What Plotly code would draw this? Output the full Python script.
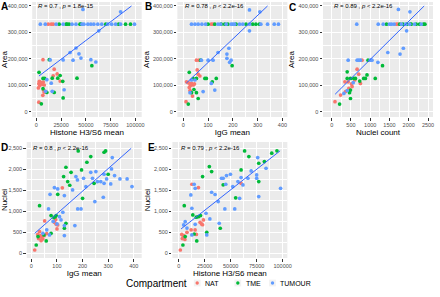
import plotly.graph_objects as go

# ---------------- data ----------------
# Panel A: Histone H3/S6 mean (x) vs Area (y)
A_NAT_x = [12000, 15000, 17000, 6700, 18000, 21000, 17000, 24000, 3000, 4500, 2500, 6000, 3500, 8000, 5500, 7000, 2000, 7500, 8000, 6500, 2500]
A_NAT_y = [331000, 331000, 331000, 197000, 161000, 143000, 136000, 116000, 115000, 111000, 106000, 104000, 99000, 101000, 108000, 112000, 90000, 81000, 74000, 62000, 36000]
A_TME_x = [23000, 30000, 31000, 33000, 44000, 45000, 70000, 83000, 90000, 95000, 13000, 56000, 2700, 6700, 8300, 16000, 21600, 24000, 41000, 26600, 6700, 10600, 18000, 27000, 5000]
A_TME_y = [331000, 331000, 331000, 331000, 331000, 331000, 331000, 331000, 331000, 331000, 197000, 174000, 149000, 126000, 126000, 127000, 127000, 137000, 127000, 115000, 87000, 73000, 73000, 52000, 30000]
A_TUM_x = [4000, 9000, 20000, 27000, 36000, 40000, 46000, 48000, 52000, 55000, 58000, 62000, 66000, 72000, 76000, 80000, 85000, 99000, 47000, 85000, 63000, 40000, 34000, 43000, 45000, 37000, 27000, 55000, 60000, 14000, 10600, 15000, 16000, 9300, 28000]
A_TUM_y = [331000, 331000, 331000, 331000, 331000, 331000, 331000, 331000, 331000, 331000, 331000, 331000, 331000, 331000, 331000, 331000, 331000, 331000, 387000, 378000, 306000, 241000, 224000, 219000, 203000, 195000, 196000, 197000, 188000, 196000, 121000, 108000, 77000, 77000, 83000]
A_FIT_x = [2600, 96000]
A_FIT_y = [135000, 400000]

# Panel B: IgG mean (x) vs Area (y)
B_NAT_x = [113, 120, 53, 63, 56, 60, 67, 13, 20, 27, 33, 40, 24, 27, 37, 11, 30, 45]
B_NAT_y = [331000, 331000, 195000, 195000, 158000, 142000, 135000, 113000, 110000, 105000, 107000, 101000, 92000, 80000, 59000, 38000, 100000, 105000]
B_TME_x = [100, 127, 153, 167, 180, 213, 253, 280, 293, 307, 197, 70, 24, 53, 87, 93, 133, 117, 60, 43, 53, 33, 20, 40]
B_TME_y = [331000, 331000, 331000, 331000, 331000, 331000, 331000, 331000, 331000, 331000, 174000, 195000, 149000, 126000, 126000, 126000, 126000, 113000, 50000, 84000, 72000, 72000, 29000, 125000]
B_TUM_x = [33, 47, 60, 75, 90, 140, 150, 173, 193, 200, 207, 227, 240, 267, 313, 340, 367, 384, 267, 309, 267, 184, 176, 176, 193, 187, 100, 120, 73, 140, 113, 127, 80, 27, 33, 47]
B_TUM_y = [331000, 331000, 331000, 331000, 331000, 331000, 331000, 331000, 331000, 331000, 331000, 331000, 331000, 331000, 331000, 331000, 331000, 331000, 385000, 378000, 306000, 240000, 218000, 202000, 195000, 187000, 195000, 195000, 195000, 224000, 107000, 82000, 76000, 72000, 120000, 120000]
B_FIT_x = [12, 340]
B_FIT_y = [108000, 400000]

# Panel C: Nuclei count (x) vs Area (y)
C_NAT_x = [1680, 1723, 788, 660, 703, 746, 343, 428, 514, 531, 446, 360, 231, 86, 600]
C_NAT_y = [331000, 331000, 195000, 161000, 142000, 107000, 113000, 113000, 105000, 95000, 88000, 76000, 63000, 38000, 120000]
C_TME_x = [1423, 1765, 1851, 1954, 2040, 2065, 2194, 2280, 2383, 2420, 1320, 1131, 943, 403, 917, 831, 874, 403, 488, 574, 617, 728, 488, 463, 488, 206]
C_TME_y = [331000, 331000, 331000, 331000, 331000, 331000, 331000, 331000, 331000, 331000, 174000, 126000, 195000, 151000, 139000, 126000, 126000, 126000, 126000, 126000, 126000, 116000, 82000, 72000, 50000, 29000]
C_TUM_x = [651, 1208, 1337, 1500, 1551, 1620, 1808, 1920, 2023, 2151, 2323, 1731, 2031, 1945, 1860, 1457, 1774, 1200, 428, 660, 703, 746, 1003, 1046, 403, 317, 560]
C_TUM_y = [331000, 331000, 331000, 331000, 331000, 331000, 331000, 331000, 331000, 331000, 331000, 387000, 378000, 306000, 240000, 224000, 218000, 187000, 195000, 195000, 195000, 195000, 195000, 195000, 80000, 69000, 110000]
C_FIT_x = [90, 2400]
C_FIT_y = [66000, 400000]

# Panel D: IgG mean (x) vs Nuclei (y)
D_NAT_x = [121, 52, 90, 97, 103, 100, 13, 32, 25, 35, 40, 28, 45, 38, 60, 50, 95]
D_NAT_y = [1560, 770, 738, 691, 675, 580, 79, 516, 450, 420, 380, 350, 340, 300, 470, 420, 800]
D_TME_x = [183, 284, 290, 232, 217, 135, 155, 196, 300, 126, 142, 103, 245, 200, 32, 77, 93, 97, 88, 135, 26, 19, 58, 77, 49, 129, 150]
D_TME_y = [2438, 2406, 2438, 2303, 2168, 2049, 1929, 1985, 1882, 1826, 1707, 1405, 1667, 1310, 1135, 897, 873, 897, 850, 715, 397, 198, 294, 476, 437, 596, 1620]
D_TUM_x = [316, 313, 232, 252, 284, 346, 374, 393, 325, 294, 258, 239, 271, 284, 310, 213, 204, 174, 180, 161, 90, 103, 73, 129, 281, 248, 181, 194, 123, 67, 110, 170, 116, 129, 45, 71, 129, 100, 60, 85]
D_TUM_y = [2279, 2009, 1929, 1945, 1882, 1771, 1771, 1588, 1850, 1771, 1707, 1787, 1707, 1667, 1651, 1588, 1787, 1826, 1747, 1509, 1564, 1532, 1405, 1374, 1334, 1231, 1056, 1056, 977, 1056, 873, 659, 794, 659, 476, 437, 421, 700, 560, 760]
D_FIT_x = [13, 390]
D_FIT_y = [475, 2500]

# Panel E: Histone H3/S6 mean (x) vs Nuclei (y)
E_NAT_x = [12700, 19000, 60000, 1600, 20600, 22000, 23000, 23800, 15800, 8000, 3000, 4500, 3500, 6000, 5000, 17000, 12000]
E_NAT_y = [1644, 1564, 1667, 79, 738, 700, 680, 794, 556, 500, 450, 400, 350, 330, 420, 450, 560]
E_TME_x = [63400, 67500, 94500, 89500, 82400, 77000, 29500, 31700, 23000, 60000, 77000, 42800, 54800, 5400, 13600, 19000, 21000, 17000, 27000, 40000, 14900, 6300, 4100, 17400]
E_TME_y = [2438, 2303, 2440, 2385, 2183, 2144, 2064, 1945, 1826, 1985, 1707, 1630, 1320, 1135, 913, 873, 897, 860, 500, 596, 460, 397, 198, 294]
E_TUM_x = [76000, 84000, 69700, 75000, 75000, 66600, 60000, 57000, 49800, 46000, 42800, 41200, 45300, 52000, 61800, 98000, 77000, 58600, 31700, 38000, 44400, 53900, 15900, 14900, 11700, 12700, 26300, 30000, 39000, 27000, 4800, 6300, 15900, 12700, 8000, 35000]
E_TUM_y = [2279, 2025, 1961, 1866, 1787, 1787, 1803, 1707, 1882, 1850, 1787, 1787, 1644, 1588, 1628, 1548, 1350, 1310, 1453, 1231, 1056, 1056, 1548, 1644, 1390, 1072, 953, 818, 715, 437, 675, 754, 691, 437, 600, 1400]
E_FIT_x = [2300, 97500]
E_FIT_y = [580, 2440]

COMPARTMENTS = ["NAT", "TME", "TUMOUR"]
COLORS = ["#F8766D", "#00BA38", "#619CFF"]
LABELS = ["A", "B", "C", "D", "E"]
STATS = ["<i>R</i> = 0.7 , <i>p</i> = 1.8e-15",
         "<i>R</i> = 0.78 , <i>p</i> < 2.2e-16",
         "<i>R</i> = 0.89 , <i>p</i> < 2.2e-16",
         "<i>R</i> = 0.8 , <i>p</i> < 2.2e-16",
         "<i>R</i> = 0.79 , <i>p</i> < 2.2e-16"]
X_TITLES = ["Histone H3/S6 mean", "IgG mean", "Nuclei count", "IgG mean", "Histone H3/S6 mean"]
Y_TITLES = ["Area", "Area", "Area", "Nuclei", "Nuclei"]
LEGEND_TITLE = "Compartment"

PANEL_DATA = [
    ([A_NAT_x, A_TME_x, A_TUM_x], [A_NAT_y, A_TME_y, A_TUM_y], A_FIT_x, A_FIT_y),
    ([B_NAT_x, B_TME_x, B_TUM_x], [B_NAT_y, B_TME_y, B_TUM_y], B_FIT_x, B_FIT_y),
    ([C_NAT_x, C_TME_x, C_TUM_x], [C_NAT_y, C_TME_y, C_TUM_y], C_FIT_x, C_FIT_y),
    ([D_NAT_x, D_TME_x, D_TUM_x], [D_NAT_y, D_TME_y, D_TUM_y], D_FIT_x, D_FIT_y),
    ([E_NAT_x, E_TME_x, E_TUM_x], [E_NAT_y, E_TME_y, E_TUM_y], E_FIT_x, E_FIT_y),
]

# ---------------- layout geometry (pixels) ----------------
W, H = 440, 297
X_DOM_PX = [(32.5, 143), (179, 290), (326, 437), (27, 143), (174, 290)]
Y_DOM_PX = [(2, 117), (2, 117), (2, 117), (142, 258), (142, 258)]
X_RANGES = [(-4200, 106300), (-24, 420), (-224, 2630), (-18, 431), (-6000, 104500)]
Y_RANGES = [(-20000, 415000)] * 3 + [(-112, 2650)] * 2
X_DTICK = [25000, 100, 500, 100, 25000]
Y_DTICK = [100000] * 3 + [500] * 2
LABEL_POS = [(0, 0), (145.5, 0), (291, 1), (0, 141), (148, 141)]
LEG_Y = 283
LEG_TITLE_X = 125
LEG_KEY_X = [199, 240, 275]
LEG_TEXT_X = [205, 246, 281]

FONT = "Liberation Sans, Arial, sans-serif"

fig = go.Figure()

for i, (xs, ys, fx, fy) in enumerate(PANEL_DATA):
    sfx = "" if i == 0 else str(i + 1)
    for j in range(3):
        fig.add_trace(go.Scatter(
            x=xs[j], y=ys[j], mode="markers",
            marker=dict(size=3.7, color=COLORS[j], line=dict(width=0)),
            name=COMPARTMENTS[j], showlegend=False,
            xaxis="x" + sfx, yaxis="y" + sfx,
        ))
    fig.add_trace(go.Scatter(
        x=fx, y=fy, mode="lines", line=dict(color="#3366FF", width=1),
        showlegend=False, xaxis="x" + sfx, yaxis="y" + sfx, hoverinfo="skip",
    ))

layout = dict(
    width=W, height=H, margin=dict(l=0, r=0, t=0, b=0),
    paper_bgcolor="white", plot_bgcolor="#EBEBEB",
    font=dict(family=FONT, color="black"),
    showlegend=False,
)

annotations = []
shapes = []
for i in range(5):
    sfx = "" if i == 0 else str(i + 1)
    x0, x1 = X_DOM_PX[i]
    y0, y1 = Y_DOM_PX[i]
    common = dict(
        showgrid=True, gridcolor="white", gridwidth=0.9,
        zeroline=False, showline=False,
        ticks="outside", ticklen=2.5, tickwidth=0.6, tickcolor="#333333",
        tickfont=dict(size=5.5, color="#4D4D4D", family=FONT),
        ticklabeloverflow="allow",
    )
    layout["xaxis" + sfx] = dict(
        common, domain=[x0 / W, x1 / W], range=list(X_RANGES[i]),
        anchor="y" + sfx, dtick=X_DTICK[i], tick0=0, tickformat="d",
        minor=dict(showgrid=True, gridcolor="white", gridwidth=0.4, ticks="", dtick=X_DTICK[i] / 2),
        title=dict(text=X_TITLES[i], font=dict(size=8, color="black"), standoff=2),
    )
    layout["yaxis" + sfx] = dict(
        common, domain=[1 - y1 / H, 1 - y0 / H], range=list(Y_RANGES[i]),
        anchor="x" + sfx, dtick=Y_DTICK[i], tick0=0, tickformat=",",
        minor=dict(showgrid=True, gridcolor="white", gridwidth=0.4, ticks="", dtick=Y_DTICK[i] / 2),
        title=dict(text=Y_TITLES[i], font=dict(size=8, color="black"), standoff=2),
    )
    annotations.append(dict(
        text=STATS[i], xref="x" + sfx, yref=("y" + sfx) + " domain",
        x=0, y=0.962 if i < 3 else 0.945, xanchor="left", yanchor="middle",
        showarrow=False, font=dict(size=6, color="black", family=FONT),
    ))
    lx, ly = LABEL_POS[i]
    annotations.append(dict(
        text="<b>" + LABELS[i] + "</b>", xref="paper", yref="paper",
        x=lx / W, y=1 - ly / H, xanchor="left", yanchor="top",
        showarrow=False, font=dict(size=10, color="black", family=FONT),
        borderpad=0,
    ))

# manual legend (ggplot-style, bottom centre)
annotations.append(dict(
    text=LEGEND_TITLE, xref="paper", yref="paper", x=LEG_TITLE_X / W, y=1 - LEG_Y / H,
    xanchor="left", yanchor="middle", showarrow=False,
    font=dict(size=10, color="black", family=FONT),
))
for j in range(3):
    kx = LEG_KEY_X[j]
    shapes.append(dict(type="rect", xref="paper", yref="paper",
                       x0=(kx - 3.4) / W, x1=(kx + 3.4) / W,
                       y0=1 - (LEG_Y + 3.4) / H, y1=1 - (LEG_Y - 3.4) / H,
                       fillcolor="#F2F2F2", line=dict(width=0)))
    shapes.append(dict(type="circle", xref="paper", yref="paper",
                       x0=(kx - 1.7) / W, x1=(kx + 1.7) / W,
                       y0=1 - (LEG_Y + 1.7) / H, y1=1 - (LEG_Y - 1.7) / H,
                       fillcolor=COLORS[j], line=dict(width=0)))
    annotations.append(dict(
        text=COMPARTMENTS[j], xref="paper", yref="paper", x=LEG_TEXT_X[j] / W, y=1 - LEG_Y / H,
        xanchor="left", yanchor="middle", showarrow=False,
        font=dict(size=7, color="black", family=FONT),
    ))

layout["annotations"] = annotations
layout["shapes"] = shapes
fig.update_layout(**layout)

fig.write_html("out.html", config={"displayModeBar": False},
               post_script="document.body.style.margin='0px';")
